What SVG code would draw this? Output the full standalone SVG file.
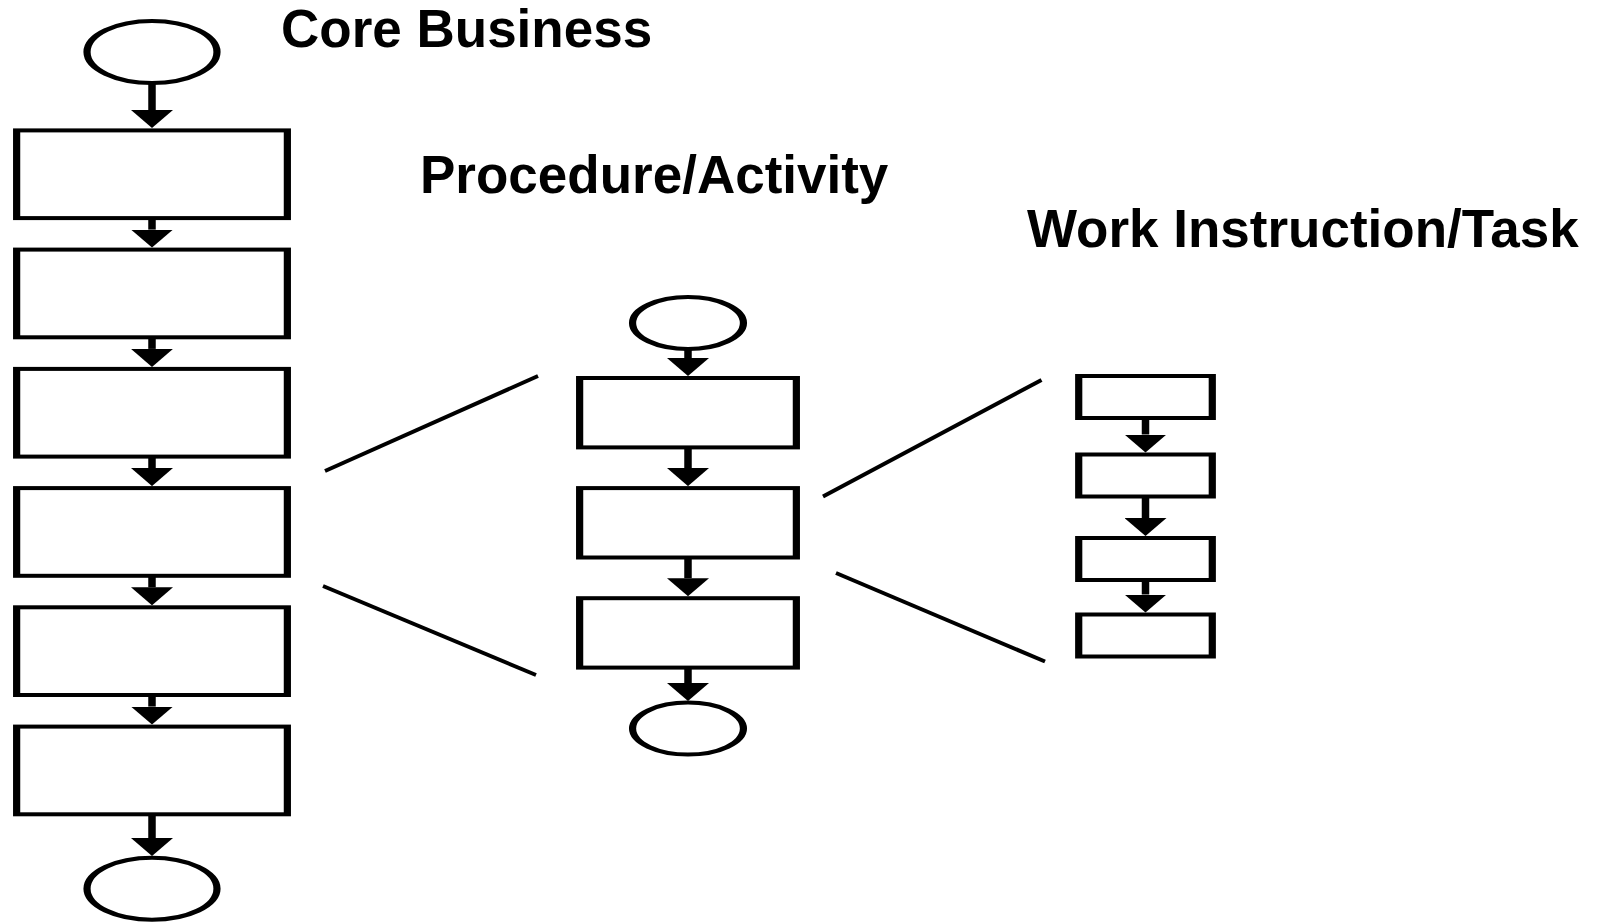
<svg xmlns="http://www.w3.org/2000/svg" width="1598" height="923" viewBox="0 0 1598 923">
  <style>
    .box { fill: #ffffff; stroke: #000000; stroke-width: 4; }
    .term { fill: #ffffff; stroke: #000000; stroke-width: 4; }
    .flow { stroke: #000000; stroke-width: 7.5; fill: none; marker-end: url(#head); }
    .link { stroke: #000000; stroke-width: 4; fill: none; }
    .title { font-family: "Liberation Sans", Arial, sans-serif; font-weight: bold; font-size: 53px; fill: #000000; }
  </style>
  <defs>
    <marker id="head" markerUnits="userSpaceOnUse" viewBox="0 -21 18 42" refX="0" refY="0" markerWidth="18" markerHeight="42" orient="auto">
      <path d="M0,-21 L18,0 L0,21 z" fill="#000000"/>
    </marker>
  </defs>

  <rect width="1598" height="923" fill="#ffffff"/>

  <!-- headings -->
  <g id="labels">
    <text class="title" x="281" y="47">Core Business</text>
    <text class="title" x="420" y="193">Procedure/Activity</text>
    <text class="title" x="1027" y="247">Work Instruction/Task</text>
  </g>

  <!-- flow arrows and zoom-out lines -->
  <g id="connectors">
    <!-- core business column -->
    <line class="flow" x1="152" y1="84" x2="152" y2="110"/>
    <line class="flow" x1="152" y1="219" x2="152" y2="229.6"/>
    <line class="flow" x1="152" y1="338" x2="152" y2="348.9"/>
    <line class="flow" x1="152" y1="457" x2="152" y2="468.1"/>
    <line class="flow" x1="152" y1="576" x2="152" y2="587.3"/>
    <line class="flow" x1="152" y1="695" x2="152" y2="706.6"/>
    <line class="flow" x1="152" y1="815" x2="152" y2="838"/>
    <!-- procedure column -->
    <line class="flow" x1="688" y1="350" x2="688" y2="358"/>
    <line class="flow" x1="688" y1="448" x2="688" y2="468.1"/>
    <line class="flow" x1="688" y1="558" x2="688" y2="578.2"/>
    <line class="flow" x1="688" y1="668" x2="688" y2="683"/>
    <!-- work instruction column -->
    <line class="flow" x1="1145.5" y1="419" x2="1145.5" y2="434.5"/>
    <line class="flow" x1="1145.5" y1="498" x2="1145.5" y2="518"/>
    <line class="flow" x1="1145.5" y1="582" x2="1145.5" y2="594.5"/>
    <!-- expansion lines -->
    <line class="link" x1="325" y1="471" x2="538" y2="376"/>
    <line class="link" x1="323" y1="586" x2="536" y2="675"/>
    <line class="link" x1="823" y1="496.5" x2="1041.5" y2="380"/>
    <line class="link" x1="836" y1="573" x2="1045" y2="661.5"/>
  </g>

  <!-- core business column -->
  <g id="cb-start" transform="translate(152,0) scale(1.8,1)"><ellipse class="term" cx="0" cy="52" rx="36.1" ry="31"/></g>
  <g id="cb-step1" transform="translate(152,0) scale(1.8,1)"><rect class="box" x="-75.2" y="130.4" width="150.4" height="87.7"/></g>
  <g id="cb-step2" transform="translate(152,0) scale(1.8,1)"><rect class="box" x="-75.2" y="249.6" width="150.4" height="87.7"/></g>
  <g id="cb-step3" transform="translate(152,0) scale(1.8,1)"><rect class="box" x="-75.2" y="368.9" width="150.4" height="87.7"/></g>
  <g id="cb-step4" transform="translate(152,0) scale(1.8,1)"><rect class="box" x="-75.2" y="488.1" width="150.4" height="87.7"/></g>
  <g id="cb-step5" transform="translate(152,0) scale(1.8,1)"><rect class="box" x="-75.2" y="607.3" width="150.4" height="87.7"/></g>
  <g id="cb-step6" transform="translate(152,0) scale(1.8,1)"><rect class="box" x="-75.2" y="726.6" width="150.4" height="87.7"/></g>
  <g id="cb-end" transform="translate(152,0) scale(1.8,1)"><ellipse class="term" cx="0" cy="888.7" rx="36.1" ry="31"/></g>

  <!-- procedure column -->
  <g id="pa-start" transform="translate(688,0) scale(1.8,1)"><ellipse class="term" cx="0" cy="323" rx="30.8" ry="26"/></g>
  <g id="pa-step1" transform="translate(688,0) scale(1.8,1)"><rect class="box" x="-60.2" y="378" width="120.4" height="69.4"/></g>
  <g id="pa-step2" transform="translate(688,0) scale(1.8,1)"><rect class="box" x="-60.2" y="488.1" width="120.4" height="69.4"/></g>
  <g id="pa-step3" transform="translate(688,0) scale(1.8,1)"><rect class="box" x="-60.2" y="598.2" width="120.4" height="69.4"/></g>
  <g id="pa-end" transform="translate(688,0) scale(1.8,1)"><ellipse class="term" cx="0" cy="728.6" rx="30.8" ry="26"/></g>

  <!-- work instruction column -->
  <g id="wi-step1" transform="translate(1145.5,0) scale(1.8,1)"><rect class="box" x="-37.1" y="376" width="74.2" height="42"/></g>
  <g id="wi-step2" transform="translate(1145.5,0) scale(1.8,1)"><rect class="box" x="-37.1" y="454.5" width="74.2" height="42"/></g>
  <g id="wi-step3" transform="translate(1145.5,0) scale(1.8,1)"><rect class="box" x="-37.1" y="538" width="74.2" height="42"/></g>
  <g id="wi-step4" transform="translate(1145.5,0) scale(1.8,1)"><rect class="box" x="-37.1" y="614.5" width="74.2" height="42"/></g>
</svg>
